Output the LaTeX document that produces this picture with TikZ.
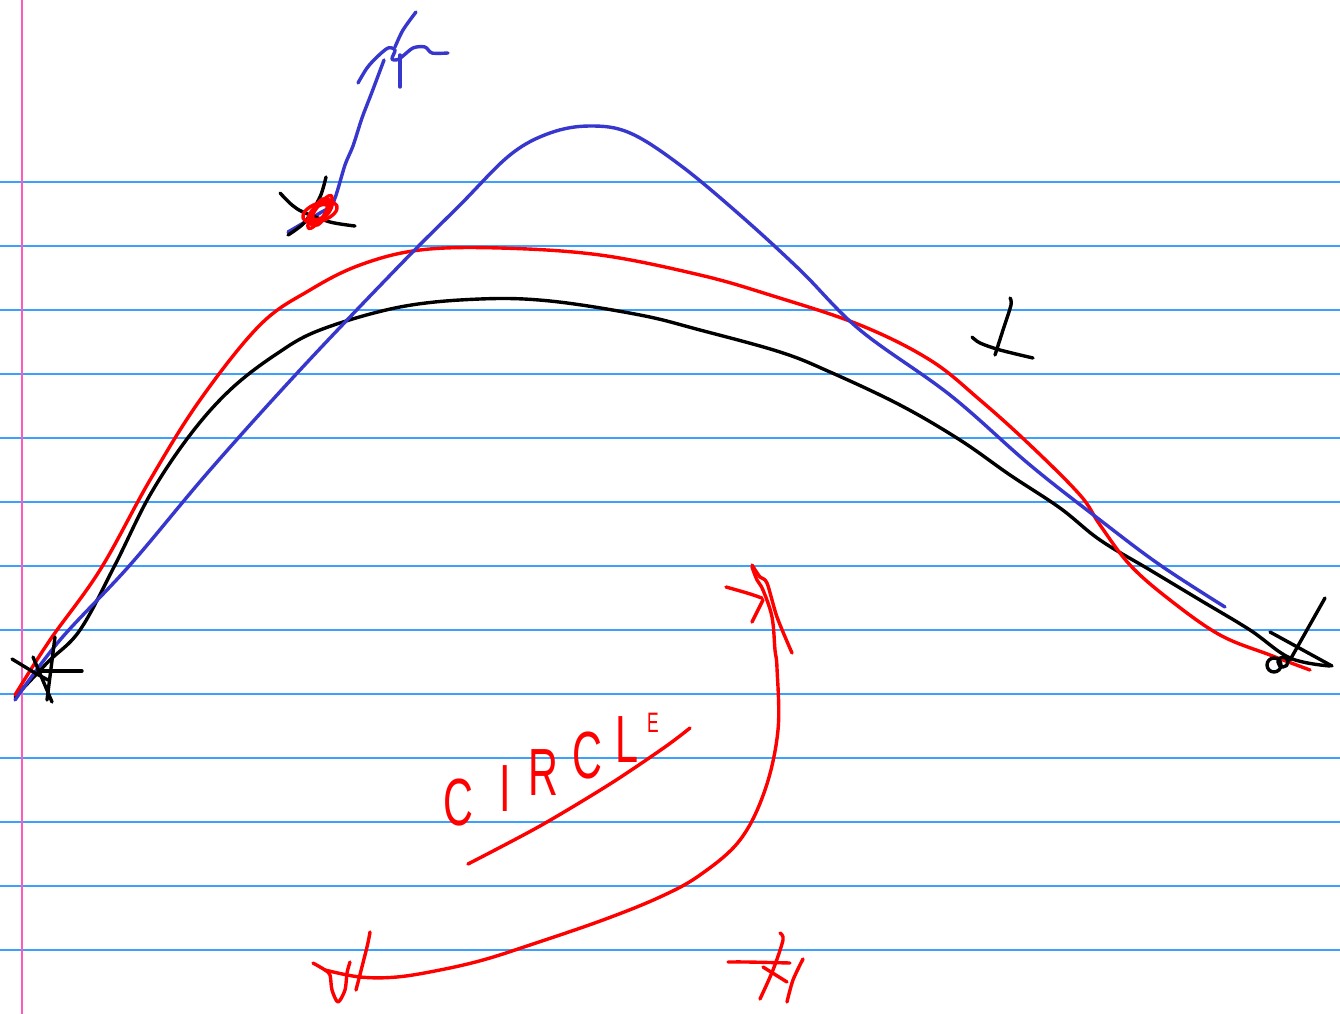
\documentclass[tikz,border=0pt]{standalone}
\usepackage{fontspec}
\setmainfont{Liberation Sans}
\newfontfamily\handfont[FakeStretch=0.62]{Liberation Sans}
\definecolor{ruleblue}{RGB}{60,160,255}
\definecolor{marginpink}{RGB}{255,90,190}
\definecolor{penblue}{RGB}{55,55,205}
\definecolor{penred}{RGB}{255,0,0}

\begin{document}
\begin{tikzpicture}[
    x=0.02cm, y=-0.02cm,
    pen/.style={line width=0.068cm, line cap=round, line join=round},
    ruling/.style={ruleblue, line width=0.025cm},
    letter/.style={text=penred, inner sep=0pt, font=\handfont\fontsize{38}{38}\selectfont}
  ]
    \fill[white] (0,0) rectangle (1340,1014);
    \useasboundingbox (0,0) rectangle (1340,1014);
    % ruled paper
    \foreach \y in {182,246,...,950}
      \draw[ruling] (0,\y) -- (1340,\y);
    \draw[marginpink, line width=0.025cm] (22,0) -- (22,1014);

    % black curve
    \draw[pen] plot[smooth, tension=0.6] coordinates {(15,697) (48,662) (80,630) (115,565) (150,495) (190,435) (230,390) (275,355) (320,330) (400,307) (480,299) (550,301) (640,315) (700,330) (780,352) (830,372) (900,405) (960,440) (1010,475) (1060,508) (1100,540) (1150,570) (1200,600) (1250,630) (1290,658) (1330,666)};
    % red curve
    \draw[pen, penred] plot[smooth, tension=0.6] coordinates {(15,695) (50,640) (100,570) (150,480) (200,400) (260,325) (310,290) (360,265) (420,250) (500,248) (600,255) (700,275) (770,295) (860,325) (930,360) (980,400) (1030,445) (1080,495) (1100,525) (1130,565) (1170,600) (1220,635) (1270,655) (1310,670)};
    % blue curve
    \draw[pen, penblue] plot[smooth, tension=0.6] coordinates {(15,700) (60,640) (130,565) (210,470) (300,370) (400,265) (460,205) (510,155) (550,133) (590,126) (630,133) (680,165) (740,215) (800,270) (860,330) (950,395) (1030,465) (1100,520) (1160,565) (1225,607)};

    % blue stroke up from the upper point
    \draw[pen, penblue] plot[smooth] coordinates {(288,232) (320,213) (333,203) (345,165) (353,146) (362,118) (372,92) (384,60)};
    \draw[pen, penblue] plot[smooth] coordinates {(358,83) (367,68) (377,57) (388,48) (395,50) (392,59) (399,59) (413,48) (425,47) (432,53) (448,53)};
    \draw[pen, penblue] (400,87) -- (400,55);
    \draw[pen, penblue] plot[smooth] coordinates {(395,47) (403,30) (416,12)};
    % upper point
    \draw[pen] plot[smooth] coordinates {(280,193) (292,205) (303,212) (330,222) (355,226)};
    \draw[pen] plot[smooth] coordinates {(326,177) (320,197) (305,222) (288,235)};
    \foreach \a/\rx/\ry in {20/18/9, 45/16/7, 70/14/6, 55/20/5, 35/10/6}
      \draw[pen, penred, rotate around={\a:(320,212)}] (320,212) ellipse [x radius=\rx, y radius=\ry];

    % left point
    \draw[pen] (12,659) -- (35,673) -- (48,680);
    \draw[pen] (38,671) -- (82,671);
    \draw[pen] (55,637) -- (47,700);
    \draw[pen] (33,657) -- (52,702);
    % right point
    \draw[pen] (1325,598) -- (1290,660);
    \draw[pen] (1270,632) -- (1332,666);
    \draw[pen] (1274,665) circle [radius=7];
    \draw[pen] (1283,662) circle [radius=5];
    % mark near the red curve
    \draw[pen] plot[smooth] coordinates {(1010,298) (1011,305) (1003,330) (995,355)};
    \draw[pen] plot[smooth] coordinates {(972,337) (980,343) (1000,350) (1033,358)};

    % red arc from the lower left point to the upper point
    \draw[pen, penred] plot[smooth, tension=0.6] coordinates {(325,970) (360,977) (397,977) (440,970) (483,960) (530,945) (603,920) (660,897) (700,875) (740,840) (765,790) (778,730) (777,668) (775,650) (772,617) (763,590) (757,580) (752,567)};
    \draw[pen, penred] plot[smooth] coordinates {(752,565) (760,577) (767,583) (777,617) (792,653)};
    \draw[pen, penred] plot[smooth] coordinates {(726,587) (747,593) (762,598)};
    \draw[pen, penred] (752,622) -- (763,600);
    % lower left point
    \draw[pen, penred] plot[smooth] coordinates {(313,963) (325,970) (330,975) (332,990) (338,1002) (345,990) (347,973) (350,962)};
    \draw[pen, penred] plot[smooth] coordinates {(370,932) (367,947) (356,990)};
    % lower right point
    \draw[pen, penred] plot[smooth] coordinates {(728,962) (747,962) (790,963)};
    \draw[pen, penred] plot[smooth] coordinates {(780,933) (783,940) (773,970) (760,999)};
    \draw[pen, penred] (763,967) -- (787,982);
    \draw[pen, penred] plot[smooth] coordinates {(803,959) (793,980) (787,1002)};

    % handwritten word
    \foreach \ch/\x/\y [count=\i] in {C/458/803, I/505/789, R/543/773, C/587/756, L/627/740}
      \node[letter] (word\i) at (\x,\y) {\ch};
    \node[letter, font=\handfont\fontsize{16}{16}\selectfont] (word6) at (653,723) {E};
    \draw[pen, penred] plot[smooth] coordinates {(468,864) (540,826) (610,784) (665,747) (690,728)};
  \end{tikzpicture}
\end{document}
